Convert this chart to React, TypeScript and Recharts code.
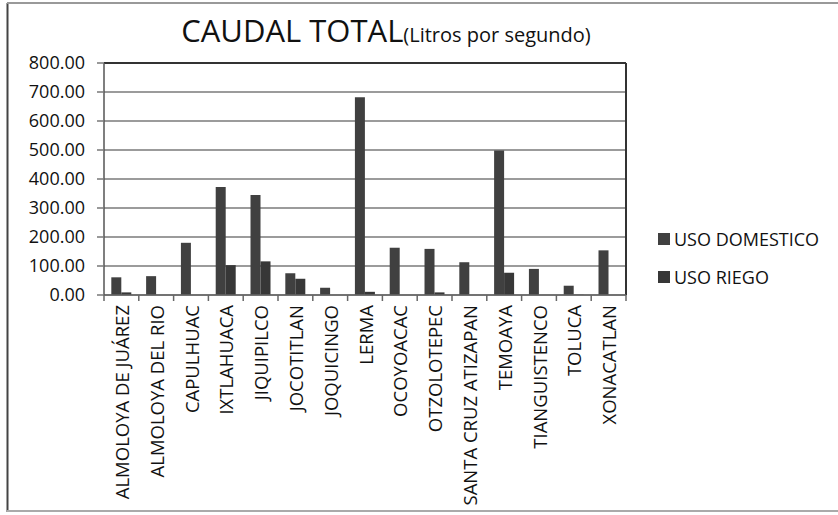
import React from 'react';
import { BarChart, Bar, XAxis, YAxis, CartesianGrid, ReferenceLine } from 'recharts';

const categories = [
  'ALMOLOYA DE JUÁREZ',
  'ALMOLOYA DEL RIO',
  'CAPULHUAC',
  'IXTLAHUACA',
  'JIQUIPILCO',
  'JOCOTITLAN',
  'JOQUICINGO',
  'LERMA',
  'OCOYOACAC',
  'OTZOLOTEPEC',
  'SANTA CRUZ ATIZAPAN',
  'TEMOAYA',
  'TIANGUISTENCO',
  'TOLUCA',
  'XONACATLAN',
];
const usoDomestico = [61, 65, 180, 372, 345, 75, 25, 682, 163, 159, 113, 498, 90, 32, 154];
const usoRiego = [9, 0, 0, 103, 116, 56, 0, 11, 0, 9, 0, 77, 0, 1, 0];
const yTicks = [0, 100, 200, 300, 400, 500, 600, 700, 800];
const seriesNames = ['USO DOMESTICO', 'USO RIEGO'];
const seriesColors = ['#404040', '#373737'];

const FONT = '"Open Sans", sans-serif';
const TICK_GAP = 10;

const data = categories.map((name, i) => ({
  name,
  dom: usoDomestico[i],
  riego: usoRiego[i],
}));

const XTick = (props: any) => {
  const { x, y, payload, index } = props;
  const half = payload && payload.offset ? payload.offset : 0;
  const axisY = y - TICK_GAP;
  return (
    <g>
      <line x1={x - half} y1={axisY} x2={x - half} y2={axisY + 6} stroke="#666" strokeWidth={1.5} />
      {index === categories.length - 1 && (
        <line x1={x + half} y1={axisY} x2={x + half} y2={axisY + 6} stroke="#666" strokeWidth={1.5} />
      )}
      <text
        transform={`translate(${x},${y}) rotate(-90)`}
        textAnchor="end"
        dominantBaseline="central"
        fontSize={18.5}
        fontFamily={FONT}
        fill="#111"
      >
        {payload.value}
      </text>
    </g>
  );
};

export default function App() {
  return (
    <div style={{ position: 'absolute', left: 0, top: 0, width: 838, height: 515, background: '#fff' }}>
      <BarChart
        width={838}
        height={515}
        data={data}
        margin={{ top: 63, right: 212, left: 0, bottom: 0 }}
        barCategoryGap="21%"
        barGap={0}
      >
        <CartesianGrid vertical={false} stroke="#7a7a7a" strokeWidth={1.5} />
        <XAxis
          dataKey="name"
          type="category"
          height={220}
          axisLine={{ stroke: '#666', strokeWidth: 1.5 }}
          tickLine={false}
          tickSize={0}
          tickMargin={TICK_GAP}
          interval={0}
          tick={<XTick />}
        />
        <YAxis
          width={104}
          domain={[0, 800]}
          ticks={yTicks}
          interval={0}
          tickFormatter={(v: number) => v.toFixed(2)}
          tickSize={7}
          tickMargin={12}
          axisLine={{ stroke: '#555', strokeWidth: 1.5 }}
          tickLine={{ stroke: '#777', strokeWidth: 1.5 }}
          tick={{ fontSize: 18, fill: '#111', fontFamily: FONT }}
        />
        <ReferenceLine x={categories[categories.length - 1]} position="end" stroke="#333" strokeWidth={2} />
        <ReferenceLine y={800} stroke="#333" strokeWidth={2} />
        <Bar dataKey="dom" name={seriesNames[0]} fill={seriesColors[0]} isAnimationActive={false} />
        <Bar dataKey="riego" name={seriesNames[1]} fill={seriesColors[1]} isAnimationActive={false} />
      </BarChart>
      <svg
        width={838}
        height={515}
        style={{ position: 'absolute', left: 0, top: 0, pointerEvents: 'none' }}
      >
        <line x1={7.5} y1={3} x2={7.5} y2={512} stroke="#444" strokeWidth={2} />
        <line x1={7} y1={3} x2={838} y2={3} stroke="#999" strokeWidth={2} />
        <line x1={7} y1={511} x2={838} y2={511} stroke="#aaa" strokeWidth={2} />
        <text x={386} y={42} textAnchor="middle" fontFamily={FONT} fill="#111">
          <tspan fontSize={31}>CAUDAL TOTAL</tspan>
          <tspan fontSize={20}>(Litros por segundo)</tspan>
        </text>
        {seriesNames.map((n, i) => (
          <g key={n}>
            <rect x={658} y={233 + i * 38} width={12} height={12} fill={seriesColors[i]} />
            <text x={674} y={239 + i * 38} dominantBaseline="central" fontSize={18} fontFamily={FONT} fill="#111">
              {n}
            </text>
          </g>
        ))}
      </svg>
    </div>
  );
}
